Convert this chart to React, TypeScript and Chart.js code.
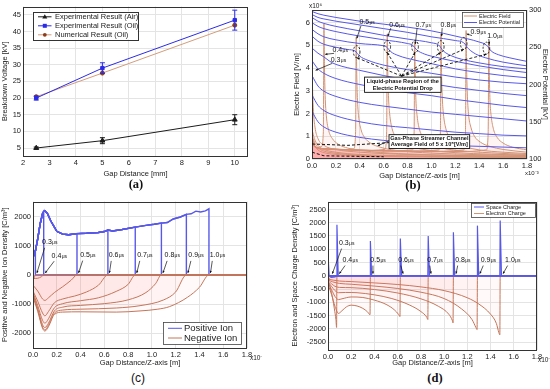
import React, { useEffect, useRef } from 'react';
import { Chart, registerables } from 'chart.js';
Chart.register(...registerables);

const SANS = '"Liberation Sans", Arial, sans-serif';
const SERIF = '"Liberation Serif", "Times New Roman", serif';

type Pt = [number, number];

// ---------------- (a) breakdown voltage ----------------
const gapMM = [2.5, 5, 10];
const airKV = [5.0, 7.2, 13.5];
const airErr = [0.3, 0.9, 1.5];
const oilKV = [20.0, 29.0, 43.4];
const oilErr = [0.6, 1.6, 3.0];
const numKV = [20.4, 27.5, 41.9];
const legendA = ['Experimental Result (Air)', 'Experimental Result (Oil)', 'Numerical Result (Oil)'];
const aXTicks = [2, 3, 4, 5, 6, 7, 8, 9, 10];
const aYTicks = [5, 10, 15, 20, 25, 30, 35, 40, 45];

// ---------------- shared ----------------
const timeLabels = ['0.3', '0.4', '0.5', '0.6', '0.7', '0.8', '0.9', '1.0'];
const gapTicks = [0, 0.2, 0.4, 0.6, 0.8, 1.0, 1.2, 1.4, 1.6, 1.8];

// ---------------- (b) electric field [x10^6 V/m] & potential [kV] ----------------
const bYTicks = [0, 1, 2, 3, 4, 5, 6];
const bY1Ticks = [100, 150, 200, 250, 300];
const pot1: Pt[] = [[0, 298], [0.05, 295], [0.1, 293], [0.2, 290], [0.4, 285], [0.6, 281], [0.8, 277], [1.0, 272], [1.2, 265], [1.4, 257], [1.46, 253], [1.5, 245], [1.56, 240], [1.65, 236], [1.8, 231]];
const pot2: Pt[] = [[0, 294], [0.05, 290], [0.1, 288], [0.2, 285], [0.4, 280], [0.6, 275], [0.8, 270], [1.0, 264], [1.2, 259], [1.27, 256], [1.31, 248], [1.37, 241], [1.45, 236], [1.6, 230], [1.8, 225]];
const pot3: Pt[] = [[0, 290], [0.05, 285], [0.1, 282], [0.2, 278], [0.4, 272], [0.6, 266], [0.8, 261], [1.0, 256], [1.06, 253], [1.1, 245], [1.16, 239], [1.25, 234], [1.4, 229], [1.6, 224], [1.8, 221]];
const pot4: Pt[] = [[0, 283], [0.05, 278], [0.1, 275], [0.2, 271], [0.4, 265], [0.6, 260], [0.8, 255], [0.84, 253], [0.88, 246], [0.94, 241], [1.0, 238], [1.2, 231], [1.4, 225], [1.6, 220], [1.8, 216]];
const pot5: Pt[] = [[0, 274], [0.05, 268], [0.1, 264], [0.2, 260], [0.4, 255], [0.6, 252], [0.62, 251], [0.66, 244], [0.72, 239], [0.8, 235], [1.0, 228], [1.2, 221], [1.4, 216], [1.6, 212], [1.8, 209]];
const pot6: Pt[] = [[0, 265], [0.05, 258], [0.1, 254], [0.2, 250], [0.3, 247], [0.36, 245], [0.4, 238], [0.46, 233], [0.6, 226], [0.8, 220], [1.0, 215], [1.2, 210], [1.4, 206], [1.6, 203], [1.8, 201]];
const pot7: Pt[] = [[0, 249], [0.05, 242], [0.1, 237], [0.15, 231], [0.2, 227], [0.4, 219], [0.6, 212], [0.8, 206], [1.0, 201], [1.2, 196], [1.4, 192], [1.6, 188], [1.8, 185]];
const pot8: Pt[] = [[0, 232], [0.05, 221], [0.1, 215], [0.2, 208], [0.4, 200], [0.6, 194], [0.8, 189], [1.0, 185], [1.2, 180], [1.4, 176], [1.6, 172], [1.8, 169]];
const pot9: Pt[] = [[0, 212], [0.05, 198], [0.1, 191], [0.2, 184], [0.4, 176], [0.6, 171], [0.8, 167], [1.0, 163], [1.2, 160], [1.4, 157], [1.6, 154], [1.8, 151]];
const pot10: Pt[] = [[0, 186], [0.05, 172], [0.1, 165], [0.2, 158], [0.4, 150], [0.6, 145], [0.8, 142], [1.0, 139], [1.2, 136], [1.4, 134], [1.6, 132], [1.8, 131]];
const pot11: Pt[] = [[0, 164], [0.05, 150], [0.1, 143], [0.2, 136], [0.4, 129], [0.6, 125], [0.8, 122], [1.0, 120], [1.2, 118], [1.4, 117], [1.6, 116], [1.8, 115]];
const potentialCurves = [pot1, pot2, pot3, pot4, pot5, pot6, pot7, pot8, pot9, pot10, pot11];

const fieldPre1: Pt[] = [[0, 1.3], [0.02, 0.9], [0.05, 0.6], [0.1, 0.42], [0.2, 0.3], [0.4, 0.2], [0.8, 0.14], [1.2, 0.11], [1.8, 0.09]];
const fieldPre2: Pt[] = [[0, 1.05], [0.02, 0.75], [0.05, 0.5], [0.1, 0.35], [0.2, 0.25], [0.4, 0.17], [0.8, 0.12], [1.2, 0.1], [1.8, 0.08]];
const fieldPre3: Pt[] = [[0, 0.8], [0.02, 0.6], [0.05, 0.4], [0.1, 0.28], [0.2, 0.2], [0.4, 0.14], [0.8, 0.1], [1.2, 0.08], [1.8, 0.06]];
const field03: Pt[] = [[0, 4.0], [0.005, 3.0], [0.012, 2.1], [0.025, 1.4], [0.05, 0.9], [0.1, 0.6], [0.2, 0.42], [0.4, 0.3], [0.8, 0.2], [1.2, 0.15], [1.8, 0.11]];
const field04: Pt[] = [[0, 1.0], [0.02, 0.6], [0.05, 0.5], [0.08, 0.55], [0.095, 1.2], [0.1, 5.95], [0.104, 4.2], [0.11, 2.8], [0.12, 1.9], [0.14, 1.25], [0.17, 0.9], [0.22, 0.65], [0.3, 0.48], [0.5, 0.32], [0.8, 0.22], [1.2, 0.16], [1.8, 0.12]];
const field05: Pt[] = [[0, 1.0], [0.02, 0.55], [0.1, 0.45], [0.25, 0.4], [0.35, 0.45], [0.365, 1.2], [0.37, 5.35], [0.374, 3.9], [0.38, 2.7], [0.39, 1.9], [0.41, 1.3], [0.44, 0.95], [0.49, 0.7], [0.57, 0.52], [0.7, 0.38], [1.0, 0.26], [1.4, 0.19], [1.8, 0.15]];
const field06: Pt[] = [[0, 1.0], [0.02, 0.55], [0.1, 0.45], [0.3, 0.4], [0.5, 0.38], [0.61, 0.42], [0.625, 1.2], [0.63, 5.5], [0.634, 4.0], [0.64, 2.8], [0.65, 2.0], [0.67, 1.35], [0.7, 0.98], [0.75, 0.72], [0.83, 0.54], [0.96, 0.4], [1.2, 0.28], [1.5, 0.21], [1.8, 0.17]];
const field07: Pt[] = [[0, 1.0], [0.02, 0.55], [0.1, 0.45], [0.4, 0.38], [0.7, 0.36], [0.84, 0.4], [0.855, 1.2], [0.86, 5.15], [0.864, 3.8], [0.87, 2.6], [0.88, 1.9], [0.9, 1.3], [0.93, 0.95], [0.98, 0.7], [1.06, 0.52], [1.2, 0.39], [1.5, 0.27], [1.8, 0.2]];
const field08: Pt[] = [[0, 1.0], [0.02, 0.55], [0.1, 0.45], [0.5, 0.37], [0.9, 0.35], [1.06, 0.4], [1.075, 1.2], [1.08, 5.5], [1.084, 4.0], [1.09, 2.8], [1.1, 2.0], [1.12, 1.35], [1.15, 0.98], [1.2, 0.72], [1.28, 0.54], [1.4, 0.4], [1.6, 0.3], [1.8, 0.24]];
const field09: Pt[] = [[0, 1.0], [0.02, 0.55], [0.1, 0.45], [0.6, 0.36], [1.1, 0.34], [1.27, 0.4], [1.285, 1.2], [1.29, 5.65], [1.294, 4.1], [1.3, 2.9], [1.31, 2.0], [1.33, 1.4], [1.36, 1.0], [1.41, 0.74], [1.49, 0.55], [1.6, 0.42], [1.8, 0.3]];
const field10: Pt[] = [[0, 1.0], [0.02, 0.55], [0.1, 0.45], [0.7, 0.35], [1.3, 0.33], [1.46, 0.4], [1.475, 1.2], [1.48, 5.15], [1.484, 3.8], [1.49, 2.6], [1.5, 1.9], [1.52, 1.3], [1.55, 0.95], [1.6, 0.7], [1.68, 0.52], [1.8, 0.4]];
const fieldCurves = [fieldPre1, fieldPre2, fieldPre3, field03, field04, field05, field06, field07, field08, field09, field10];

const bLabX = [0.22, 0.235, 0.46, 0.71, 0.93, 1.14, 1.39, 1.53];
const bLabY = [4.38, 4.82, 6.03, 5.93, 5.93, 5.93, 5.6, 5.45];
const bTipX = [0.03, 0.11, 0.375, 0.635, 0.865, 1.085, 1.295, 1.485];
const bTipY = [3.9, 4.6, 5.3, 5.4, 5.05, 5.4, 5.5, 5.05];
const ellipseX = [0.374, 0.63, 0.863, 1.078, 1.27, 1.46];
const ellipseY = [4.72, 4.94, 4.94, 4.94, 5.08, 4.87];
const liquidBox = [0.44, 1.08, 3.6, 2.93];
const gasBox = [0.645, 1.32, 1.07, 0.46];
const liquidText = ['Liquid-phase Region of the', 'Electric Potential Drop'];
const gasText = ['Gas-Phase Streamer Channel', 'Average Field of 5 x 10\u2075[V/m]'];

// ---------------- (c) ion densities ----------------
const cYTicks = [-2000, -1000, 0, 1000, 2000];
const posEnvX = [0, 0.02, 0.04, 0.06, 0.08, 0.09, 0.1, 0.12, 0.15, 0.2, 0.25, 0.3, 0.37, 0.45, 0.55, 0.6, 0.63, 0.67, 0.75, 0.86, 0.95, 1.02, 1.08, 1.13, 1.18, 1.24, 1.29, 1.33, 1.37, 1.41, 1.45, 1.48];
const posEnvY = [600, 820, 1250, 1750, 2100, 2180, 2200, 2120, 1850, 1500, 1400, 1380, 1420, 1430, 1460, 1490, 1540, 1510, 1560, 1640, 1700, 1740, 1780, 1800, 1920, 1990, 2080, 2100, 2190, 2160, 2200, 2270];
const tipsC = [0.02, 0.09, 0.37, 0.63, 0.86, 1.08, 1.29, 1.48];
const neg03: Pt[] = [[0, -130], [0.01, -90], [0.02, 0], [1.8, 0]];
const neg04: Pt[] = [[0, -120], [0.04, -110], [0.07, -60], [0.09, 0], [1.8, 0]];
const neg05: Pt[] = [[0, -350], [0.04, -550], [0.08, -820], [0.1, -870], [0.13, -780], [0.18, -600], [0.25, -400], [0.32, -180], [0.37, 0], [1.8, 0]];
const neg06: Pt[] = [[0, -550], [0.04, -900], [0.08, -1300], [0.1, -1400], [0.13, -1250], [0.18, -950], [0.25, -820], [0.35, -720], [0.45, -580], [0.55, -350], [0.63, 0], [1.8, 0]];
const neg07: Pt[] = [[0, -600], [0.04, -1050], [0.08, -1550], [0.1, -1650], [0.13, -1500], [0.18, -1120], [0.25, -980], [0.4, -880], [0.55, -780], [0.7, -560], [0.8, -320], [0.86, 0], [1.8, 0]];
const neg08: Pt[] = [[0, -650], [0.04, -1150], [0.08, -1700], [0.1, -1800], [0.13, -1650], [0.18, -1230], [0.25, -1100], [0.4, -1040], [0.6, -980], [0.8, -850], [0.95, -600], [1.03, -300], [1.08, 0], [1.8, 0]];
const neg09: Pt[] = [[0, -700], [0.04, -1200], [0.08, -1780], [0.1, -1880], [0.13, -1720], [0.18, -1300], [0.25, -1200], [0.4, -1170], [0.7, -1130], [0.9, -1050], [1.1, -850], [1.2, -580], [1.29, 0], [1.8, 0]];
const neg10: Pt[] = [[0, -750], [0.04, -1250], [0.08, -1820], [0.1, -1920], [0.13, -1770], [0.18, -1350], [0.25, -1270], [0.4, -1260], [0.7, -1270], [0.9, -1230], [1.05, -1170], [1.15, -1080], [1.3, -760], [1.4, -420], [1.48, 0], [1.8, 0]];
const negCurves = [neg03, neg04, neg05, neg06, neg07, neg08, neg09, neg10];
const cLabX = [0.14, 0.22, 0.46, 0.70, 0.94, 1.17, 1.37, 1.55];
const cLabY = [1140, 680, 700, 690, 690, 690, 690, 690];

// ---------------- (d) space & electron charge ----------------
const dYTicks = [-2500, -2000, -1500, -1000, -500, 0, 500, 1000, 1500, 2000, 2500];
const space03: Pt[] = [[0, 0], [0.002, 640], [0.01, 0], [0.03, -60], [0.06, -40], [0.08, 0], [1.8, 0]];
const space04: Pt[] = [[0, 0], [0.074, 0], [0.077, 1920], [0.088, 0], [1.8, 0]];
const space05: Pt[] = [[0, 0], [0.362, 0], [0.365, 1310], [0.376, 0], [1.8, 0]];
const space06: Pt[] = [[0, 0], [0.62, 0], [0.623, 1400], [0.634, 0], [1.8, 0]];
const space07: Pt[] = [[0, 0], [0.86, 0], [0.863, 1500], [0.874, 0], [1.8, 0]];
const space08: Pt[] = [[0, 0], [1.077, 0], [1.08, 1640], [1.091, 0], [1.8, 0]];
const space09: Pt[] = [[0, 0], [1.284, 0], [1.287, 1890], [1.298, 0], [1.8, 0]];
const space10: Pt[] = [[0, 0], [1.48, 0], [1.483, 2080], [1.494, 0], [1.8, 0]];
const spaceCurves = [space03, space04, space05, space06, space07, space08, space09, space10];
const elec03: Pt[] = [[0, -110], [0.015, -90], [0.025, -40], [0.03, 0], [1.8, 0]];
const elec04: Pt[] = [[0, -200], [0.02, -450], [0.04, -850], [0.055, -1250], [0.068, -1650], [0.074, -1950], [0.077, 0], [1.8, 0]];
const elec05: Pt[] = [[0, -320], [0.03, -700], [0.06, -1150], [0.09, -1420], [0.12, -1320], [0.16, -1170], [0.2, -1110], [0.25, -1140], [0.3, -1230], [0.34, -1360], [0.362, -1470], [0.365, 0], [1.8, 0]];
const elec06: Pt[] = [[0, -270], [0.03, -520], [0.06, -780], [0.09, -900], [0.12, -870], [0.2, -800], [0.3, -820], [0.4, -920], [0.5, -1080], [0.57, -1280], [0.61, -1470], [0.62, -1540], [0.623, 0], [1.8, 0]];
const elec07: Pt[] = [[0, -230], [0.03, -400], [0.06, -560], [0.09, -640], [0.15, -630], [0.25, -640], [0.4, -720], [0.55, -860], [0.7, -1100], [0.8, -1350], [0.85, -1560], [0.86, -1650], [0.863, 0], [1.8, 0]];
const elec08: Pt[] = [[0, -190], [0.03, -300], [0.06, -400], [0.1, -440], [0.2, -450], [0.4, -520], [0.6, -650], [0.8, -870], [0.95, -1150], [1.04, -1450], [1.072, -1700], [1.077, -1780], [1.08, 0], [1.8, 0]];
const elec09: Pt[] = [[0, -160], [0.04, -230], [0.1, -290], [0.2, -320], [0.4, -390], [0.6, -480], [0.8, -620], [1.0, -860], [1.15, -1250], [1.24, -1650], [1.275, -1960], [1.284, -2030], [1.287, 0], [1.8, 0]];
const elec10: Pt[] = [[0, -130], [0.05, -170], [0.1, -200], [0.2, -220], [0.4, -270], [0.6, -330], [0.8, -420], [1.0, -560], [1.2, -830], [1.3, -1070], [1.4, -1450], [1.45, -1800], [1.472, -2150], [1.48, -2230], [1.483, 0], [1.8, 0]];
const elecCurves = [elec03, elec04, elec05, elec06, elec07, elec08, elec09, elec10];
const tipsD = [0.02, 0.08, 0.37, 0.63, 0.87, 1.085, 1.29, 1.49];
const dLabX = [0.16, 0.19, 0.43, 0.67, 0.92, 1.16, 1.38, 1.59];
const dLabY = [1250, 610, 610, 610, 610, 610, 610, 610];

// ---------------- colours ----------------
const AIR = '#1c1c1c';
const OIL = '#2b2be6';
const NUM_LINE = '#d49c7c';
const NUM_PT = '#8a3d18';
const BLUE = 'rgb(88,88,232)';
const TAN = 'rgb(208,148,118)';
const RED = 'rgb(196,118,90)';
const PINK_B = 'rgba(255,110,110,0.08)';
const PINK_CD = 'rgba(255,110,110,0.045)';

// ---------------- helpers ----------------
const xy = (a: Pt[]) => a.map(([x, y]) => ({ x, y }));

function linAxis(o: any) {
  return {
    type: 'linear',
    position: o.position,
    min: o.min,
    max: o.max,
    afterBuildTicks: (s: any) => {
      s.ticks = o.ticks.map((v: number) => ({ value: v }));
    },
    ticks: {
      autoSkip: false,
      maxRotation: 0,
      font: { family: SANS, size: 7.5 },
      color: '#222',
      padding: 2,
      callback: o.fmt || ((v: number) => String(v)),
    },
    grid: { color: '#e4e4e4', drawTicks: false, drawOnChartArea: o.grid !== false },
    border: { display: false },
    title: { display: true, text: o.title, font: { family: SANS, size: 7.5 }, color: '#222', padding: 0 },
    afterFit: (s: any) => {
      if (o.w !== undefined) s.width = o.w;
      if (o.h !== undefined) s.height = o.h;
    },
  };
}
const fx = (v: number) => Number(v).toFixed(1);

function txt(ctx: any, s: string, x: number, y: number, size: number, o: any = {}) {
  ctx.save();
  ctx.font = `${o.bold ? 'bold ' : ''}${size}px ${SANS}`;
  ctx.fillStyle = o.color || '#111';
  ctx.textAlign = o.align || 'left';
  ctx.textBaseline = o.base || 'middle';
  ctx.fillText(s, x, y);
  ctx.restore();
}

function arrow(ctx: any, x1: number, y1: number, x2: number, y2: number, dashed = false, head = 3) {
  ctx.save();
  ctx.strokeStyle = '#111';
  ctx.fillStyle = '#111';
  ctx.lineWidth = dashed ? 0.9 : 0.7;
  if (dashed) ctx.setLineDash([3, 2]);
  ctx.beginPath();
  ctx.moveTo(x1, y1);
  ctx.lineTo(x2, y2);
  ctx.stroke();
  ctx.setLineDash([]);
  const a = Math.atan2(y2 - y1, x2 - x1);
  ctx.beginPath();
  ctx.moveTo(x2, y2);
  ctx.lineTo(x2 - head * Math.cos(a - 0.45), y2 - head * Math.sin(a - 0.45));
  ctx.lineTo(x2 - head * Math.cos(a + 0.45), y2 - head * Math.sin(a + 0.45));
  ctx.closePath();
  ctx.fill();
  ctx.restore();
}

function timeLabel(ctx: any, t: string, x: number, y: number) {
  ctx.save();
  ctx.fillStyle = '#111';
  ctx.textBaseline = 'alphabetic';
  ctx.font = `7px ${SANS}`;
  const w1 = ctx.measureText(t).width;
  ctx.font = `5px ${SANS}`;
  const w2 = ctx.measureText('\u03bcs').width;
  const x0 = x - (w1 + w2) / 2;
  ctx.font = `7px ${SANS}`;
  ctx.fillText(t, x0, y + 2.5);
  ctx.font = `5px ${SANS}`;
  ctx.fillText('\u03bcs', x0 + w1 + 0.3, y + 2.5);
  ctx.restore();
}

function legendBox(ctx: any, x: number, y: number, w: number, h: number, rows: { c: string; s: string }[], size: number, lx: number, ll: number, tx: number, rowY: number[]) {
  ctx.save();
  ctx.fillStyle = '#fff';
  ctx.fillRect(x, y, w, h);
  ctx.strokeStyle = '#444';
  ctx.lineWidth = 0.8;
  ctx.strokeRect(Math.round(x) + 0.5, Math.round(y) + 0.5, w, h);
  rows.forEach((r, i) => {
    const yy = y + rowY[i];
    ctx.strokeStyle = r.c;
    ctx.lineWidth = 1;
    ctx.beginPath();
    ctx.moveTo(x + lx, yy);
    ctx.lineTo(x + lx + ll, yy);
    ctx.stroke();
    txt(ctx, r.s, x + tx, yy, size, { color: '#222' });
  });
  ctx.restore();
}

const framePlugin = {
  id: 'frame',
  afterDatasetsDraw(chart: any) {
    const { ctx, chartArea: a } = chart;
    ctx.save();
    ctx.strokeStyle = '#333';
    ctx.lineWidth = 1;
    ctx.strokeRect(Math.round(a.left) + 0.5, Math.round(a.top) + 0.5, Math.round(a.width) - 1, Math.round(a.height) - 1);
    ctx.restore();
  },
};

const baseOpts = {
  animation: false,
  responsive: false,
  events: [],
  plugins: { legend: { display: false }, tooltip: { enabled: false } },
};

// ---------------- chart (a) ----------------
const errPluginA = {
  id: 'errA',
  afterDatasetsDraw(chart: any) {
    const { ctx, scales } = chart;
    const sets: [number[], number[], string][] = [[airKV, airErr, AIR], [oilKV, oilErr, OIL]];
    ctx.save();
    ctx.lineWidth = 1;
    sets.forEach(([v, e, c]) => {
      ctx.strokeStyle = c;
      gapMM.forEach((g, i) => {
        const px = scales.x.getPixelForValue(g);
        const y1 = scales.y.getPixelForValue(v[i] - e[i]);
        const y2 = scales.y.getPixelForValue(v[i] + e[i]);
        ctx.beginPath();
        ctx.moveTo(px, y1); ctx.lineTo(px, y2);
        ctx.moveTo(px - 2.5, y1); ctx.lineTo(px + 2.5, y1);
        ctx.moveTo(px - 2.5, y2); ctx.lineTo(px + 2.5, y2);
        ctx.stroke();
      });
    });
    ctx.restore();
  },
};

const legendPluginA = {
  id: 'legA',
  afterDatasetsDraw(chart: any) {
    const { ctx, chartArea: a } = chart;
    const bx = a.left + 9.5, by = a.top + 5, bw = 105, bh = 28;
    ctx.save();
    ctx.fillStyle = '#fff';
    ctx.fillRect(bx, by, bw, bh);
    ctx.strokeStyle = '#333';
    ctx.lineWidth = 1;
    ctx.strokeRect(Math.round(bx) + 0.5, Math.round(by) + 0.5, bw, bh);
    const lineC = [AIR, OIL, NUM_LINE];
    const ptC = [AIR, OIL, NUM_PT];
    legendA.forEach((s, i) => {
      const yy = by + 5.3 + i * 9;
      ctx.strokeStyle = lineC[i];
      ctx.lineWidth = 1;
      ctx.beginPath();
      ctx.moveTo(bx + 5.5, yy);
      ctx.lineTo(bx + 19, yy);
      ctx.stroke();
      const mx = bx + 12.3;
      ctx.fillStyle = ptC[i];
      ctx.beginPath();
      if (i === 0) { ctx.moveTo(mx, yy - 2.6); ctx.lineTo(mx + 2.5, yy + 1.8); ctx.lineTo(mx - 2.5, yy + 1.8); ctx.closePath(); }
      else if (i === 1) { ctx.rect(mx - 2, yy - 2, 4, 4); }
      else { ctx.arc(mx, yy, 1.9, 0, Math.PI * 2); }
      ctx.fill();
      txt(ctx, s, bx + 22.5, yy + 0.3, 7.5, { color: '#222' });
    });
    ctx.restore();
  },
};

function makeA() {
  return {
    type: 'line',
    data: {
      datasets: [
        { data: gapMM.map((x, i) => ({ x, y: airKV[i] })), borderColor: AIR, backgroundColor: AIR, pointStyle: 'triangle', pointRadius: 2.8, borderWidth: 1 },
        { data: gapMM.map((x, i) => ({ x, y: oilKV[i] })), borderColor: OIL, backgroundColor: OIL, pointStyle: 'rect', pointRadius: 2.4, borderWidth: 1 },
        { data: gapMM.map((x, i) => ({ x, y: numKV[i] })), borderColor: NUM_LINE, backgroundColor: NUM_PT, pointBorderColor: NUM_PT, pointStyle: 'circle', pointRadius: 2, borderWidth: 1 },
      ],
    },
    options: {
      ...baseOpts,
      layout: { padding: { top: 4, right: 14, left: 0, bottom: 0 } },
      scales: {
        x: linAxis({ min: 2, max: 10.5, ticks: aXTicks, title: 'Gap Distance [mm]', h: 22 }),
        y: linAxis({ min: 2.6, max: 47.5, ticks: aYTicks, title: 'Breakdown Voltage [kV]', w: 23 }),
      },
    },
    plugins: [framePlugin, errPluginA, legendPluginA],
  };
}

// ---------------- chart (b) ----------------
const annPluginB = {
  id: 'annB',
  afterDatasetsDraw(chart: any) {
    const { ctx, chartArea: a, scales } = chart;
    const X = (v: number) => scales.x.getPixelForValue(v);
    const Y = (v: number) => scales.y.getPixelForValue(v);
    ctx.save();
    ctx.beginPath();
    ctx.rect(a.left, a.top, a.width, a.height);
    ctx.clip();
    ctx.strokeStyle = '#111';
    ctx.lineWidth = 0.9;
    ctx.setLineDash([2, 1.5]);
    ellipseX.forEach((ex, i) => {
      ctx.beginPath();
      ctx.ellipse(X(ex), Y(ellipseY[i]), 3.3, 6, 0, 0, Math.PI * 2);
      ctx.stroke();
    });
    ctx.setLineDash([]);
    const cx = X(0.75), cy = Y(liquidBox[2]) - 1;
    ellipseX.forEach((ex, i) => arrow(ctx, cx, cy, X(ex), Y(ellipseY[i]) + 6, true, 3));
    ctx.strokeStyle = '#111';
    ctx.lineWidth = 1;
    ctx.setLineDash([3, 2]);
    ctx.beginPath();
    ctx.moveTo(X(0.0), Y(0.66)); ctx.lineTo(X(0.3), Y(0.6)); ctx.lineTo(X(gasBox[0]), Y(0.72));
    ctx.moveTo(X(0.0), Y(0.3)); ctx.lineTo(X(0.1), Y(0.14)); ctx.lineTo(X(0.6), Y(0.1));
    ctx.stroke();
    ctx.setLineDash([]);
    arrow(ctx, X(gasBox[0]), Y(0.8), X(0.55), Y(0.58), false, 2.5);
    const box = (b: number[], lines: string[]) => {
      const x1 = X(b[0]), x2 = X(b[1]), y1 = Y(b[2]), y2 = Y(b[3]);
      ctx.fillStyle = '#fff';
      ctx.fillRect(x1, y1, x2 - x1, y2 - y1);
      ctx.strokeStyle = '#111';
      ctx.lineWidth = 0.9;
      ctx.strokeRect(x1, y1, x2 - x1, y2 - y1);
      const mid = (x1 + x2) / 2, h = y2 - y1;
      txt(ctx, lines[0], mid, y1 + h * 0.3, 5.6, { bold: true, align: 'center' });
      txt(ctx, lines[1], mid, y1 + h * 0.72, 5.6, { bold: true, align: 'center' });
    };
    box(liquidBox, liquidText);
    box(gasBox, gasText);
    ctx.restore();
    timeLabels.forEach((t, i) => {
      timeLabel(ctx, t, X(bLabX[i]), Y(bLabY[i]));
      arrow(ctx, X(bLabX[i]) - 6, Y(bLabY[i]) + 4, X(bTipX[i]), Y(bTipY[i]), false, 2.5);
    });
    legendBox(ctx, a.right - 65, a.top + 2, 61, 15, [{ c: TAN, s: 'Electric Field' }, { c: BLUE, s: 'Electric Potential' }], 5.5, 2, 13, 17, [4, 10.5]);
    txt(ctx, 'x10\u2076', a.left - 3, a.top - 4, 6.5, { color: '#222' });
    txt(ctx, 'x10\u207b\u00b3', a.right - 2, a.bottom + 14, 6, { color: '#222' });
  },
};

function makeB() {
  const datasets: any[] = [];
  potentialCurves.forEach((c) => datasets.push({ data: xy(c), yAxisID: 'y1', borderColor: BLUE, borderWidth: 1, pointRadius: 0, cubicInterpolationMode: 'monotone', fill: false }));
  fieldCurves.forEach((c) => datasets.push({ data: xy(c), yAxisID: 'y', borderColor: TAN, borderWidth: 1, pointRadius: 0, cubicInterpolationMode: 'monotone', fill: 'origin', backgroundColor: PINK_B }));
  return {
    type: 'line',
    data: { datasets },
    options: {
      ...baseOpts,
      layout: { padding: { top: 10, right: 0, left: 0, bottom: 0 } },
      scales: {
        x: linAxis({ min: 0, max: 1.8, ticks: gapTicks, title: 'Gap Distance/Z-axis [m]', h: 21, fmt: fx }),
        y: linAxis({ min: 0, max: 6.55, ticks: bYTicks, title: 'Electric Field [V/m]', w: 20 }),
        y1: linAxis({ min: 100, max: 300, ticks: bY1Ticks, title: 'Electric Potential [kV]', w: 23, position: 'right', grid: false }),
      },
    },
    plugins: [framePlugin, annPluginB],
  };
}

// ---------------- chart (c) ----------------
const annPluginC = {
  id: 'annC',
  afterDatasetsDraw(chart: any) {
    const { ctx, chartArea: a, scales } = chart;
    const X = (v: number) => scales.x.getPixelForValue(v);
    const Y = (v: number) => scales.y.getPixelForValue(v);
    timeLabels.forEach((t, i) => {
      timeLabel(ctx, t, X(cLabX[i]), Y(cLabY[i]));
      arrow(ctx, X(cLabX[i]) - 5, Y(cLabY[i]) + 6, X(tipsC[i]) + 1.5, Y(0) - 2, false, 2.5);
    });
    legendBox(ctx, a.right - 84, a.bottom - 26, 78, 22, [{ c: BLUE, s: 'Positive Ion' }, { c: RED, s: 'Negative Ion' }], 9.5, 5, 14, 21, [6.3, 16]);
    txt(ctx, 'x10\u207b\u00b3', a.right + 3, a.bottom + 10, 6.5, { color: '#222' });
  },
};

function makeC() {
  const datasets: any[] = [];
  negCurves.forEach((c) => datasets.push({ data: xy(c), borderColor: RED, borderWidth: 1, pointRadius: 0, cubicInterpolationMode: 'monotone', fill: 'origin', backgroundColor: PINK_CD }));
  tipsC.forEach((tip) => {
    const pts = posEnvX.map((x, i) => ({ x, y: posEnvY[i] })).filter((p) => p.x <= tip + 1e-9);
    pts.push({ x: tip, y: 0 }, { x: 1.8, y: 0 });
    datasets.push({ data: pts, borderColor: BLUE, borderWidth: 1.4, pointRadius: 0, tension: 0, fill: false });
  });
  return {
    type: 'line',
    data: { datasets },
    options: {
      ...baseOpts,
      layout: { padding: { top: 2, right: 15, left: 0, bottom: 0 } },
      scales: {
        x: linAxis({ min: 0, max: 1.8, ticks: gapTicks, title: 'Gap Distance/Z-axis [m]', h: 19, fmt: fx }),
        y: linAxis({ min: -2500, max: 2520, ticks: cYTicks, title: 'Positive and Negative Ion Density [C/m\u00b3]', w: 33 }),
      },
    },
    plugins: [framePlugin, annPluginC],
  };
}

// ---------------- chart (d) ----------------
const annPluginD = {
  id: 'annD',
  afterDatasetsDraw(chart: any) {
    const { ctx, chartArea: a, scales } = chart;
    const X = (v: number) => scales.x.getPixelForValue(v);
    const Y = (v: number) => scales.y.getPixelForValue(v);
    timeLabels.forEach((t, i) => {
      timeLabel(ctx, t, X(dLabX[i]), Y(dLabY[i]));
      arrow(ctx, X(dLabX[i]) - 5, Y(dLabY[i]) + 6, X(tipsD[i]) + 2, Y(0) - 2, false, 2.5);
    });
    legendBox(ctx, a.right - 66, a.top + 1.5, 64, 14, [{ c: BLUE, s: 'Space Charge' }, { c: TAN, s: 'Electron Charge' }], 5.5, 3, 10, 15, [4, 10.5]);
    txt(ctx, 'x10\u207b\u00b3', a.right + 1, a.bottom + 10, 6.5, { color: '#222' });
  },
};

function makeD() {
  const datasets: any[] = [];
  spaceCurves.forEach((c) => datasets.push({ data: xy(c), borderColor: BLUE, borderWidth: 1.2, pointRadius: 0, tension: 0, fill: 'origin', backgroundColor: 'rgba(88,88,232,0.55)' }));
  elecCurves.forEach((c) => datasets.push({ data: xy(c), borderColor: RED, borderWidth: 1, pointRadius: 0, cubicInterpolationMode: 'monotone', fill: 'origin', backgroundColor: PINK_CD }));
  return {
    type: 'line',
    data: { datasets },
    options: {
      ...baseOpts,
      layout: { padding: { top: 2, right: 13, left: 0, bottom: 0 } },
      scales: {
        x: linAxis({ min: 0, max: 1.8, ticks: gapTicks, title: 'Gap Distance/Z-axis [m]', h: 17, fmt: fx }),
        y: linAxis({ min: -2800, max: 2800, ticks: dYTicks, title: 'Electron and Space Charge Density [C/m\u00b3]', w: 38 }),
      },
    },
    plugins: [framePlugin, annPluginD],
  };
}

// ---------------- components ----------------
function Panel({ left, top, w, h, make }: { left: number; top: number; w: number; h: number; make: () => any }) {
  const ref = useRef<HTMLCanvasElement>(null);
  useEffect(() => {
    const chart = new Chart(ref.current as HTMLCanvasElement, make());
    return () => chart.destroy();
  }, []);
  return (
    <div style={{ position: 'absolute', left, top, width: w, height: h }}>
      <canvas ref={ref} width={w} height={h} style={{ width: w, height: h, display: 'block' }} />
    </div>
  );
}

function Caption({ x, y, text, serif = true }: { x: number; y: number; text: string; serif?: boolean }) {
  return (
    <div
      style={{
        position: 'absolute',
        left: x - 20,
        top: y - 8,
        width: 40,
        height: 16,
        lineHeight: '16px',
        textAlign: 'center',
        fontFamily: serif ? SERIF : SANS,
        fontWeight: serif ? 'bold' : 'normal',
        fontSize: serif ? 12.5 : 12,
        color: '#111',
      }}
    >
      {text}
    </div>
  );
}

export default function App() {
  return (
    <div style={{ position: 'fixed', left: 0, top: 0, width: 550, height: 389, background: '#fff', overflow: 'hidden' }}>
      <Panel left={0} top={0} w={262} h={178} make={makeA} />
      <Panel left={292} top={0} w={258} h={180} make={makeB} />
      <Panel left={0} top={195} w={262} h={172} make={makeC} />
      <Panel left={290} top={195} w={260} h={172} make={makeD} />
      <Caption x={136} y={184} text="(a)" />
      <Caption x={413} y={185} text="(b)" />
      <Caption x={138} y={378} text="(c)" serif={false} />
      <Caption x={435} y={378} text="(d)" />
    </div>
  );
}
